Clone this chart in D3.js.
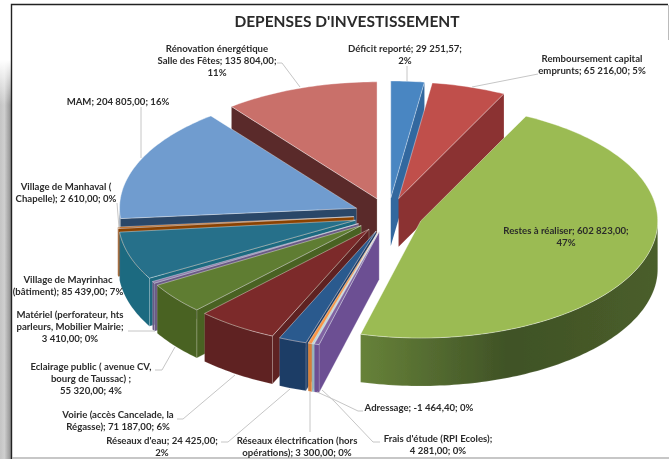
<!DOCTYPE html>
<html>
<head>
<meta charset="utf-8">
<script src="https://cdn.jsdelivr.net/npm/d3@7"></script>
<style>
html, body { margin: 0; padding: 0; background: #fff; }
svg { display: block; }
text { font-family: Lato, "Open Sans", sans-serif; font-weight: 700; fill: #2b2b2b; }
</style>
</head>
<body>
<svg id="chart" width="669" height="459"></svg>
<script>
const categories = ["Déficit reporté", "Remboursement capital emprunts", "Restes à réaliser",
    "Frais d'étude (RPI Ecoles)", "Adressage", "Réseaux électrification (hors opérations)",
    "Réseaux d'eau", "Voirie (accès Cancelade, la Régasse)", "Eclairage public ( avenue CV, bourg de Taussac)",
    "Matériel (perforateur, hts parleurs, Mobilier Mairie", "Village de Mayrinhac (bâtiment)",
    "Village de Manhaval ( Chapelle)", "MAM", "Rénovation énergétique Salle des Fêtes"];
const values = [29251.57, 65216, 602823, 4281, -1464.40, 3300, 24425, 71187, 55320, 3410, 85439, 2610, 204805, 135804];
const topColors = ["#4a86c2", "#c04f4c", "#9bbb52", "#8064a2", "#a5d5e2", "#f79646", "#2c5a8e", "#7c2b2a",
    "#5f7d30", "#8c78a8", "#27708a", "#b65708", "#6f9ccf", "#c96f6b"];
const wallColors = ["#33689f", "#8b3230", "#4c6129", "#6c4f93", "#7fb4c4", "#d67f38", "#1e3d66", "#5e2220",
    "#4a6222", "#6b5a85", "#1f6a80", "#8a4206", "#2b4668", "#5a2c2b"];

// label text, one entry per line, same order as categories
const labelLines = [
    ["Déficit reporté; 29 251,57;", "2%"],
    ["Remboursement capital", "emprunts; 65 216,00; 5%"],
    ["Restes à réaliser; 602 823,00;", "47%"],
    ["Frais d'étude (RPI Ecoles);", "4 281,00; 0%"],
    ["Adressage; -1 464,40; 0%"],
    ["Réseaux électrification (hors", "opérations); 3 300,00; 0%"],
    ["Réseaux d'eau; 24 425,00;", "2%"],
    ["Voirie (accès Cancelade, la", "Régasse); 71 187,00; 6%"],
    ["Eclairage public ( avenue CV,", "bourg de Taussac) ;", "55 320,00; 4%"],
    ["Matériel (perforateur, hts", "parleurs, Mobilier Mairie;", "3 410,00; 0%"],
    ["Village de Mayrinhac", "(bâtiment); 85 439,00; 7%"],
    ["Village de Manhaval (", "Chapelle); 2 610,00; 0%"],
    ["MAM; 204 805,00; 16%"],
    ["Rénovation énergétique", "Salle des Fêtes; 135 804,00;", "11%"]
];
const labelSpots = [[405, 52], [592, 62], [566, 234], [438, 442], [419, 411], [297, 444], [162, 444], [118, 418],
    [91, 370], [70, 318], [68, 283], [66, 190], [118, 105], [217, 52]];
const labelLeading = 12.2;
const leaders = [
    [[407, 66], [407, 81]],
    [[538, 74], [472, 87]],
    [],
    [[380, 442], [373, 442], [335, 402], [322, 390]],
    [[363, 411], [358, 411], [335, 400], [317, 392]],
    [[310, 432], [310, 392]],
    [[221, 442], [228, 442], [290, 389]],
    [[177, 419], [183, 419], [235, 375]],
    [[155, 370], [162, 370], [175, 347]],
    [[128, 331], [155, 331]],
    [],
    [[117, 203], [119, 228]],
    [[141, 107], [141, 158]],
    [[277, 63], [282, 63], [300, 87]]
];

const width = 669, height = 459;
const rx = 237, ry = 117, depth = 48, explode = 0.146;
const cx = 388.3, cy = 215;

const svg = d3.select("#chart");

// project unit circle coords to the tilted pie plane
const xScale = d3.scaleLinear().domain([-1, 1]).range([cx - rx, cx + rx]);
const yScale = d3.scaleLinear().domain([-1, 1]).range([cy - ry, cy + ry]);
const px = a => Math.sin(a), py = a => -Math.cos(a);

const pie = d3.pie().value(v => Math.abs(v)).sort(null);
const slices = pie(values).map(d => {
    const mid = (d.startAngle + d.endAngle) / 2;
    return {...d, mid, ox: explode * px(mid), oy: explode * py(mid)};
});

const line = d3.line().x(p => p[0]).y(p => p[1]);
const rim = (s, a, drop) => [xScale(s.ox + px(a)), yScale(s.oy + py(a)) + drop];
const hub = (s, drop) => [xScale(s.ox), yScale(s.oy) + drop];
const arcPts = (s, a0, a1, drop) => {
    const n = Math.max(2, Math.ceil((a1 - a0) / 0.02));
    return d3.range(n + 1).map(i => rim(s, a0 + (a1 - a0) * i / n, drop));
};

const defs = svg.append("defs");
const shadow = defs.append("linearGradient").attr("id", "leftShadow");
shadow.append("stop").attr("offset", 0).attr("stop-color", "#c4c4c4");
shadow.append("stop").attr("offset", 0.4).attr("stop-color", "#cfcfcf");
shadow.append("stop").attr("offset", 1).attr("stop-color", "#8f8f8f");
const shadowFade = defs.append("linearGradient").attr("id", "shadowFade").attr("x2", 0).attr("y2", 1);
shadowFade.append("stop").attr("offset", 0).attr("stop-color", "#fff").attr("stop-opacity", 1);
shadowFade.append("stop").attr("offset", 1).attr("stop-color", "#fff").attr("stop-opacity", 0);
const greenWall = defs.append("linearGradient").attr("id", "greenWall");
greenWall.append("stop").attr("offset", 0).attr("stop-color", "#678239");
greenWall.append("stop").attr("offset", 0.5).attr("stop-color", "#3f5226");
greenWall.append("stop").attr("offset", 1).attr("stop-color", "#4a5e2a");
defs.append("filter").attr("id", "soft").attr("x", 0).attr("y", 0).attr("width", 1).attr("height", 1)
    .append("feGaussianBlur").attr("stdDeviation", 0.45);

const root = svg.append("g").attr("filter", "url(#soft)");

// page behind the chart frame
root.append("rect").attr("width", width).attr("height", height).attr("fill", "#fff");
root.append("rect").attr("x", 0).attr("y", 60).attr("width", 11).attr("height", height - 60).attr("fill", "url(#leftShadow)");
root.append("rect").attr("x", 0).attr("y", 60).attr("width", 11).attr("height", 45).attr("fill", "url(#shadowFade)");
root.append("path").attr("fill", "none").attr("stroke", "#222").attr("stroke-width", 1.4)
    .attr("d", "M11.5,459V4.5H668");
root.append("path").attr("fill", "none").attr("stroke", "#bbb").attr("stroke-width", 1)
    .attr("d", "M668.5,5V40");
root.append("path").attr("fill", "none").attr("stroke", "#b5b5b5").attr("stroke-width", 1.5)
    .attr("d", "M12,458H669");

// back to front
const order = slices.slice().sort((a, b) => d3.ascending(py(a.mid), py(b.mid)));
const pieG = root.append("g");
order.forEach(s => {
    const i = s.index;
    const g = pieG.append("g");
    const a0 = s.startAngle, a1 = s.endAngle;

    // end wall faces us on the right half, start wall on the left half
    if (Math.sin(a1) > 0) {
        g.append("path").attr("fill", wallColors[i])
            .attr("d", line([hub(s, 0), rim(s, a1, 0), rim(s, a1, depth), hub(s, depth)]) + "Z");
    }
    if (Math.sin(a0) < 0) {
        g.append("path").attr("fill", wallColors[i])
            .attr("stroke", "rgba(255,255,255,.35)").attr("stroke-width", 0.6)
            .attr("d", line([hub(s, 0), rim(s, a0, 0), rim(s, a0, depth), hub(s, depth)]) + "Z");
    }
    // outer wall, only the part bending toward the viewer
    const f0 = Math.max(a0, Math.PI / 2), f1 = Math.min(a1, 3 * Math.PI / 2);
    if (f1 > f0) {
        const pts = arcPts(s, f0, f1, 0).concat(arcPts(s, f0, f1, depth).reverse());
        g.append("path").attr("fill", i === 2 ? "url(#greenWall)" : wallColors[i])
            .attr("stroke", "rgba(255,255,255,.25)").attr("stroke-width", 0.5)
            .attr("d", line(pts) + "Z");
    }
    // top face
    g.append("path").attr("fill", topColors[i])
        .attr("stroke", "rgba(255,255,255,.55)").attr("stroke-width", 0.7)
        .attr("d", line([hub(s, 0)].concat(arcPts(s, a0, a1, 0))) + "Z");
});

// leader lines
root.append("g").selectAll("path").data(leaders.filter(l => l.length)).join("path")
    .attr("fill", "none").attr("stroke", "#c6c6c6").attr("stroke-width", 1)
    .attr("d", d => line(d));

// labels
const labelG = root.append("g").attr("font-size", 9.6);
labelLines.forEach((lines, i) => {
    const t = labelG.append("text").attr("text-anchor", "middle")
        .attr("x", labelSpots[i][0]).attr("y", labelSpots[i][1]);
    lines.forEach((txt, k) => {
        t.append("tspan").attr("x", labelSpots[i][0]).attr("dy", k ? labelLeading : 0).text(txt);
    });
});

root.append("text").attr("x", 347).attr("y", 27).attr("text-anchor", "middle")
    .attr("font-size", 15.5).text("DEPENSES D'INVESTISSEMENT");
</script>
</body>
</html>
